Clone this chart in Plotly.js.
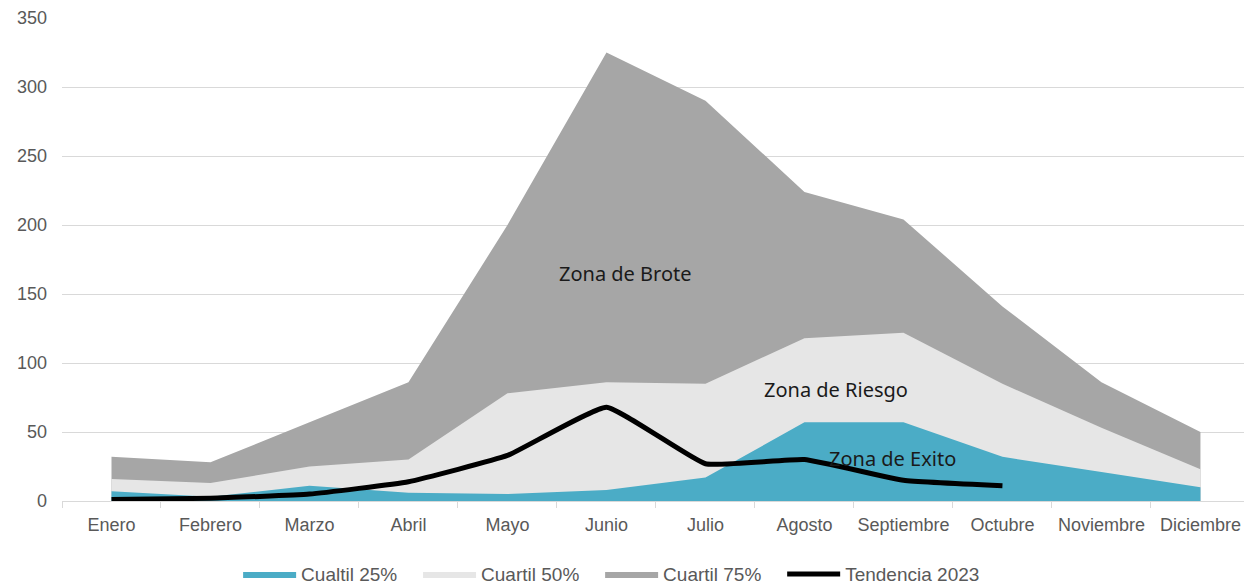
<!DOCTYPE html>
<html>
<head>
<meta charset="utf-8">
<script src="https://cdn.plot.ly/plotly-3.0.1.min.js"></script>
<style>
  html, body { margin: 0; padding: 0; background: #fff; }
  #chart { width: 1244px; height: 584px; }
</style>
</head>
<body>
<div id="chart"></div>
<script>
  const months = ["Enero", "Febrero", "Marzo", "Abril", "Mayo", "Junio", "Julio",
    "Agosto", "Septiembre", "Octubre", "Noviembre", "Diciembre"];
  const q25 = [7, 3, 11, 6, 5, 8, 17, 57, 57, 32, 21, 10];
  const q50 = [16, 13, 25, 30, 78, 86, 85, 118, 122, 85, 53, 23];
  const q75 = [32, 28, 57, 86, 200, 325, 290, 224, 204, 141, 86, 50];
  const trend2023 = [1, 2, 5, 14, 33, 68, 27, 30, 15, 11];

  const zones = [
    { text: "Zona de Brote", x: 5.19, y: 165 },
    { text: "Zona de Riesgo", x: 7.32, y: 81 },
    { text: "Zona de Exito", x: 7.89, y: 30.5 },
  ];

  // non-breaking spaces widen the gap between legend entries
  const pad = "\u00a0\u00a0\u00a0";

  const area = (name, y, color, rank) => ({
    x: months,
    y,
    name,
    type: "scatter",
    mode: "lines",
    fill: "tozeroy",
    fillcolor: color,
    line: { color, width: 0 },
    legendrank: rank,
    hoverinfo: "skip",
  });

  const traces = [
    area("Cuartil 75%" + pad, q75, "#a6a6a6", 3),
    area("Cuartil 50%" + pad, q50, "#e6e6e6", 2),
    area("Cualtil 25%" + pad, q25, "#4bacc6", 1),
    {
      x: months.slice(0, trend2023.length),
      y: trend2023,
      name: "Tendencia 2023",
      type: "scatter",
      mode: "lines",
      line: { color: "#000000", width: 5, shape: "spline", smoothing: 0.35 },
      legendrank: 4,
      hoverinfo: "skip",
    },
  ];

  const layout = {
    width: 1244,
    height: 584,
    margin: { l: 62, r: 0, t: 18, b: 83, autoexpand: false },
    paper_bgcolor: "#ffffff",
    plot_bgcolor: "#ffffff",
    font: { family: "Liberation Sans, Arial, sans-serif", size: 18, color: "#595959" },
    showlegend: true,
    legend: {
      orientation: "h",
      x: 0.149,
      xanchor: "left",
      y: -0.112,
      yanchor: "top",
      font: { size: 19, color: "#595959" },
      itemwidth: 53,
      traceorder: "normal",
    },
    xaxis: {
      type: "category",
      range: [-0.5, 11.44],
      tickangle: 0,
      showgrid: false,
      showline: true,
      linecolor: "#d9d9d9",
      linewidth: 1,
      ticks: "outside",
      tickson: "boundaries",
      ticklen: 6,
      tickcolor: "#d9d9d9",
      ticklabelstandoff: 7,
      zeroline: false,
      fixedrange: true,
    },
    yaxis: {
      range: [0, 350],
      dtick: 50,
      showgrid: true,
      gridcolor: "#d9d9d9",
      gridwidth: 1,
      zeroline: false,
      showline: false,
      ticks: "",
      ticklabelstandoff: 14,
      fixedrange: true,
    },
    annotations: zones.map((z) => ({
      x: z.x,
      y: z.y,
      xref: "x",
      yref: "y",
      text: z.text,
      showarrow: false,
      font: { family: "Noto Sans, sans-serif", size: 20, color: "#1a1a1a" },
    })),
  };

  Plotly.newPlot("chart", traces, layout, { displayModeBar: false, staticPlot: true });
</script>
</body>
</html>
